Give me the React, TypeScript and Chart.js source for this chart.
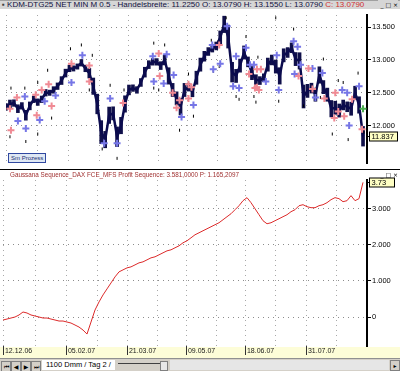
import React, { useEffect, useRef } from 'react';
import { Chart, registerables } from 'chart.js';

Chart.register(...registerables);
Chart.defaults.font.family = 'Liberation Sans, Arial, sans-serif';

// ---------- data (x = bar index, 0..90) ----------
const priceClose = [
  12.286, 12.329, 12.343, 12.257, 12.3, 12.157, 12.3, 12.4, 12.357, 12.4,
  12.5, 12.5, 12.543, 12.6, 12.686, 12.8, 12.871, 12.871, 12.9, 12.957,
  12.871, 12.8, 12.6, 12.329, 11.9, 11.786, 12.157, 12.186, 11.829, 12.0,
  12.329, 12.543, 12.571, 12.543, 12.657, 12.814, 12.929, 12.971, 12.971, 12.914,
  13.0, 12.757, 12.543, 12.414, 12.286, 12.543, 12.586, 12.514, 12.729, 12.929,
  13.057, 13.129, 13.171, 13.214, 13.343, 13.543, 13.357, 12.814, 12.757, 12.914,
  13.114, 12.971, 12.8, 12.7, 12.686, 12.729, 12.929, 13.0, 12.9, 12.757,
  13.071, 13.114, 13.186, 13.014, 12.986, 12.443, 12.529, 12.571, 12.471, 12.771,
  12.586, 12.471, 12.257, 12.271, 12.229, 12.314, 12.286, 12.257, 12.5, 12.314,
  11.837,
];

// full height of the price bar at each index (price units)
const barSpan = [
  0.10, 0.12, 0.10, 0.12, 0.10, 0.15, 0.12, 0.10, 0.10, 0.10,
  0.10, 0.08, 0.10, 0.10, 0.12, 0.12, 0.10, 0.08, 0.08, 0.10,
  0.10, 0.15, 0.25, 0.30, 0.35, 0.25, 0.25, 0.20, 0.30, 0.25,
  0.25, 0.15, 0.10, 0.10, 0.12, 0.15, 0.12, 0.10, 0.10, 0.12,
  0.15, 0.25, 0.20, 0.20, 0.25, 0.20, 0.12, 0.15, 0.20, 0.20,
  0.15, 0.12, 0.10, 0.12, 0.20, 0.25, 0.35, 0.30, 0.20, 0.20,
  0.20, 0.15, 0.20, 0.15, 0.12, 0.12, 0.20, 0.15, 0.20, 0.25,
  0.20, 0.15, 0.15, 0.20, 0.25, 0.35, 0.20, 0.15, 0.20, 0.25,
  0.20, 0.20, 0.25, 0.20, 0.20, 0.15, 0.15, 0.20, 0.20, 0.25,
  0.30,
];

const blueMarks: [number, number][] = [
  [3, 12.071], [5, 11.957], [4.75, 12.443], [8.5, 12.086], [9.75, 12.371], [12.5, 12.457],
  [16.5, 12.657], [19.25, 13.071], [26.25, 12.414], [24.75, 11.729], [28, 11.729],
  [37, 13.057], [40.5, 13.086], [37.25, 12.671], [39.75, 12.643], [42.25, 12.771],
  [44.25, 12.129], [47.25, 12.314], [52, 13.229], [54, 12.943], [52.25, 12.857],
  [55.75, 13.514], [58, 13.057], [57.25, 12.6], [58.75, 12.571], [60.5, 13.186],
  [61.5, 12.929], [62.5, 12.929], [65.5, 12.671], [68.25, 13.071], [68.75, 12.543],
  [72.5, 13.286], [73.5, 13.2], [72.75, 12.786], [74.25, 12.929], [77.25, 12.871],
  [79.75, 12.8], [78, 12.429], [84.75, 12.543], [86, 12.5], [86.5, 12.0], [89, 12.6],
];

const pinkMarks: [number, number][] = [
  [2.75, 12.429], [1, 12.257], [1.25, 11.929], [7.5, 12.471], [7.75, 12.157], [9, 12.543],
  [10.75, 12.629], [11.5, 12.3], [16.5, 12.943], [21, 12.914], [21, 12.671], [29.5, 12.343],
  [38.5, 13.1], [38.75, 12.757], [42, 12.5], [43.75, 12.386], [43, 12.271], [46, 12.629],
  [46, 12.414], [46.75, 12.586], [53.75, 13.229], [61.25, 12.786], [62.75, 12.571],
  [63.25, 12.857], [64.25, 12.857], [63.25, 12.586], [63.75, 12.543], [73.75, 12.757],
  [76.25, 12.871], [77.25, 12.557], [80.25, 12.414], [83, 12.5], [87.25, 12.4],
  [83.75, 12.214], [85.25, 12.143], [89.75, 11.943], [82.75, 12.114],
];

const greenMarks: [number, number][] = [[90, 12.257]];

const stopMarks: [number, number][] = [
  [16.25, 13.171], [19, 13.229], [21.75, 13.071], [1.25, 12.571], [4.75, 12.571], [10.5, 12.843],
  [8, 12.657], [26.25, 12.614], [29.75, 12.543], [1, 11.829], [5, 11.757], [24.25, 11.643],
  [28, 11.5], [8, 11.871], [11.5, 12.114], [21, 12.543], [37.25, 13.257], [40, 13.229],
  [38.5, 12.543], [37.25, 12.571], [43.75, 11.929], [47.25, 12.143], [46, 12.786],
  [51.75, 13.3], [52.25, 12.829], [55.5, 13.643], [53.75, 12.9], [58, 12.443], [58.75, 12.4],
  [60.5, 13.357], [62.5, 12.443], [68, 13.643], [72.5, 13.471], [63.5, 13.043], [63, 12.357],
  [68.75, 12.371], [75, 12.3], [80, 13.014], [79.25, 12.429], [82.25, 11.871], [86.25, 11.786],
  [88.75, 12.8], [90.25, 11.9], [85, 12.657], [83.75, 12.686],
];

const equity = [
  -83, -56, -28, 0, 56, 139, 111, 56, 28, 0,
  -28, -28, -56, -83, -111, -111, -139, -167, -222, -278,
  -361, -472, -139, 194, 417, 611, 778, 944, 1111, 1250,
  1306, 1361, 1389, 1444, 1500, 1528, 1583, 1639, 1667, 1722,
  1778, 1833, 1861, 1917, 1972, 2056, 2111, 2194, 2278, 2333,
  2389, 2444, 2500, 2556, 2611, 2694, 2778, 2861, 2972, 3083,
  3222, 3306, 3167, 3000, 2833, 2667, 2583, 2611, 2667, 2722,
  2778, 2833, 2917, 2972, 3083, 3111, 3056, 3028, 3028, 3083,
  3111, 3167, 3250, 3306, 3278, 3194, 3222, 3361, 3222, 3278,
  3730,
];

const dateTickIdx = [0, 15.75, 31, 45.75, 60.5, 75.75];
const dateLabels = ['12.12.06', '05.02.07', '21.03.07', '09.05.07', '18.06.07', '31.07.07'];
const midGridIdx = [8, 23.5, 38.5, 53.25, 68, 83.25];
const priceTicks = [12.0, 12.5, 13.0, 13.5];
const equityTicks = [0, 1000, 2000, 3000];
const priceRange = [11.429, 13.686];
const equityRange = [-803, 3795];
const X_MAX = 91;

const topTitle = 'KDM-DTG25 NET MIN M 0.5 - Handelsbreite: 11.2250  O: 13.0790  H: 13.1550  L: 13.0790 ';
const topTitleRed = 'C: 13.0790';
const bottomTitle = 'Gaussana Sequence_DAX FCE_MFS  Profit Sequence: 3.581,0000  P: 1.165,2097';
const legendText = 'Sm Prozess';
const tabText = '1100 Dmm / Tag 2 /';

// ---------- helpers ----------
const gridValues = [...dateTickIdx, ...midGridIdx].sort((a, b) => a - b);
const FONT = 'Liberation Sans, Arial, sans-serif';

const pts = (arr: [number, number][]) => arr.map(([x, y]) => ({ x, y }));

const noPad = (s: any) => {
  s.paddingTop = 0;
  s.paddingBottom = 0;
  s.paddingLeft = 0;
  s.paddingRight = 0;
};

const lastBox = (value: number, text: string, w: number) => ({
  id: 'lastBox',
  afterDraw(chart: any) {
    const { ctx, chartArea, scales } = chart;
    const y = Math.round(scales.y.getPixelForValue(value)) + 0.5;
    const x = chartArea.right + 2;
    ctx.save();
    ctx.strokeStyle = '#000';
    ctx.lineWidth = 1;
    ctx.beginPath();
    ctx.moveTo(chartArea.right, y);
    ctx.lineTo(x + 1, y);
    ctx.stroke();
    ctx.fillStyle = '#ffffc4';
    ctx.fillRect(x + 0.5, y - 4.5, w, 9);
    ctx.strokeRect(x + 0.5, y - 4.5, w, 9);
    ctx.fillStyle = '#000';
    ctx.font = `7.5px ${FONT}`;
    ctx.textBaseline = 'middle';
    ctx.fillText(text, x + 2.5, y + 0.5);
    ctx.restore();
  },
});

const bandPlugin = {
  id: 'band',
  beforeDraw(chart: any) {
    const { ctx, chartArea, width, height } = chart;
    ctx.save();
    ctx.fillStyle = '#fdfdd8';
    ctx.fillRect(0, chartArea.bottom + 1, width, height - chartArea.bottom - 1);
    ctx.restore();
  },
};

const yAxis = (range: number[], ticks: number[], fmt: (v: number) => string) => ({
  position: 'right' as const,
  min: range[0],
  max: range[1],
  afterBuildTicks: (s: any) => {
    s.ticks = ticks.map((v) => ({ value: v }));
  },
  afterFit: (s: any) => {
    s.width = 33;
    noPad(s);
  },
  ticks: {
    color: '#000',
    padding: 1,
    font: { family: FONT, size: 7.5 },
    callback: (v: any) => fmt(Number(v)),
  },
  grid: { color: '#8c8c8c', tickColor: '#000', tickLength: 4, drawTicks: true },
  border: { display: true, color: '#000', width: 2, dash: [1, 4] },
});

export default function App() {
  const topRef = useRef<HTMLCanvasElement>(null);
  const botRef = useRef<HTMLCanvasElement>(null);

  useEffect(() => {
    const top = new Chart(topRef.current!, {
      type: 'line',
      data: {
        datasets: [
          {
            data: pts(greenMarks), showLine: false, pointStyle: 'cross', pointRadius: 3.5,
            pointBorderWidth: 2, pointBorderColor: '#4caf50',
          },
          {
            data: pts(pinkMarks), showLine: false, pointStyle: 'cross', pointRadius: 3.5,
            pointBorderWidth: 2, pointBorderColor: '#f08a94',
          },
          {
            data: pts(blueMarks), showLine: false, pointStyle: 'cross', pointRadius: 3.5,
            pointBorderWidth: 2, pointBorderColor: '#7676e6',
          },
          {
            data: pts(stopMarks), showLine: false, pointStyle: 'line', pointRotation: 90,
            pointRadius: 1.5, pointBorderWidth: 1, pointBorderColor: '#000',
          },
          {
            data: priceClose.map((y, i) => ({ x: i, y })),
            borderColor: '#0b0b4e', borderWidth: 2.5, pointRadius: 0, tension: 0,
          },
          {
            type: 'bar',
            data: priceClose.map((c, i) => ({ x: i, y: [c - barSpan[i] / 2, c + barSpan[i] / 2] })),
            backgroundColor: '#10104a', barThickness: 3, borderWidth: 0,
          },
        ],
      } as any,
      options: {
        animation: false,
        responsive: false,
        maintainAspectRatio: false,
        events: [],
        layout: { padding: { left: 3, top: 1, bottom: 1, right: 0 } },
        plugins: { legend: { display: false }, tooltip: { enabled: false } },
        scales: {
          x: {
            type: 'linear', min: 0, max: X_MAX, offset: false,
            afterBuildTicks: (s: any) => { s.ticks = gridValues.map((v) => ({ value: v })); },
            afterFit: (s: any) => { s.height = 0; noPad(s); },
            ticks: { display: false },
            grid: { color: '#a8a8a8', drawTicks: false, offset: false },
            border: { display: false, dash: [1, 4] },
          },
          y: yAxis(priceRange, priceTicks, (v) => v.toFixed(3)),
        },
      } as any,
      plugins: [lastBox(priceClose[priceClose.length - 1], priceClose[priceClose.length - 1].toFixed(3), 28)],
    });

    const bot = new Chart(botRef.current!, {
      type: 'line',
      data: {
        datasets: [
          {
            data: equity.map((y, i) => ({ x: i, y })),
            borderColor: '#dc2a2a', borderWidth: 1, pointRadius: 0, tension: 0,
          },
        ],
      } as any,
      options: {
        animation: false,
        responsive: false,
        maintainAspectRatio: false,
        events: [],
        layout: { padding: { left: 3, top: 10, bottom: 0, right: 0 } },
        plugins: { legend: { display: false }, tooltip: { enabled: false } },
        scales: {
          x: {
            type: 'linear', min: 0, max: X_MAX,
            afterBuildTicks: (s: any) => { s.ticks = gridValues.map((v) => ({ value: v })); },
            afterFit: (s: any) => { s.height = 12; noPad(s); },
            ticks: {
              display: true, autoSkip: false, maxRotation: 0, align: 'start', padding: -8,
              color: '#1a1a1a', font: { family: FONT, size: 7 },
              callback: (v: any) => {
                const k = dateTickIdx.indexOf(Number(v));
                return k >= 0 ? ' ' + dateLabels[k] : '';
              },
            },
            grid: {
              color: '#a8a8a8', drawTicks: true, tickLength: 9,
              tickColor: (c: any) => (dateTickIdx.includes(c.tick?.value) ? '#333' : 'rgba(0,0,0,0)'),
            },
            border: { display: false, dash: [1, 4] },
          },
          y: yAxis(equityRange, equityTicks, (v) => (v === 0 ? '0' : (v / 1000).toFixed(3))),
        },
      } as any,
      plugins: [bandPlugin, lastBox(equity[equity.length - 1], (equity[equity.length - 1] / 1000).toFixed(2), 25)],
    });

    return () => {
      top.destroy();
      bot.destroy();
    };
  }, []);

  const small = { fontFamily: FONT, fontSize: 7, lineHeight: '9px', whiteSpace: 'nowrap' as const };
  const navBtn = (label: string, left: number) => (
    <div
      style={{
        position: 'absolute', left, top: 2, width: 8, height: 9, background: '#d4d0c8',
        border: '1px solid #808080', fontSize: 6, lineHeight: '9px', textAlign: 'center', color: '#000',
        fontFamily: 'DejaVu Sans, sans-serif',
      }}
    >
      {label}
    </div>
  );

  return (
    <div
      style={{
        position: 'absolute', left: 0, top: 0, width: 400, height: 371, overflow: 'hidden',
        background: '#fff', fontFamily: FONT,
      }}
    >
      {/* top title bar */}
      <div style={{ position: 'absolute', left: 0, top: 0, width: 400, height: 9, background: '#d6d6d6', borderTop: '1px solid #a0a0a0', boxSizing: 'border-box' }}>
        <div style={{ ...small, position: 'absolute', left: 2, top: -1, color: '#101040', fontSize: 8 }}>
          <span style={{ color: '#404040' }}>▪ </span>
          {topTitle}
          <span style={{ color: '#d03030' }}>{topTitleRed}</span>
        </div>
        <div style={{ ...small, position: 'absolute', right: 2, top: -1, color: '#000', fontFamily: 'DejaVu Sans, sans-serif', fontSize: 6, background: '#d6d6d6', paddingLeft: 2 }}>_ □ ×</div>
      </div>

      <canvas ref={topRef} width={400} height={160} style={{ position: 'absolute', left: 0, top: 9, width: 400, height: 160 }} />

      {/* legend box */}
      <div
        style={{
          ...small, position: 'absolute', left: 8, top: 153, height: 8, padding: '0 2px', fontSize: 6,
          lineHeight: '8px', background: '#dfe8f4', border: '1px solid #3048a0', color: '#203070',
        }}
      >
        {legendText}
      </div>

      {/* separator */}
      <div style={{ position: 'absolute', left: 0, top: 169, width: 400, height: 1, background: '#000' }} />

      <canvas ref={botRef} width={400} height={188} style={{ position: 'absolute', left: 0, top: 170, width: 400, height: 188 }} />

      {/* bottom panel title */}
      <div style={{ ...small, position: 'absolute', left: 10, top: 170, color: '#a03030', fontSize: 6.3 }}>{bottomTitle}</div>
      <div style={{ ...small, position: 'absolute', right: 2, top: 170, color: '#000', fontFamily: 'DejaVu Sans, sans-serif', fontSize: 6 }}>_ □ ×</div>

      {/* tab bar */}
      <div style={{ position: 'absolute', left: 0, top: 358, width: 400, height: 13, background: '#d4d0c8', borderTop: '1px solid #909090', boxSizing: 'border-box' }}>
        {navBtn('⏮', 1)}
        {navBtn('◀', 11)}
        {navBtn('▶', 21)}
        {navBtn('⏭', 31)}
        <div
          style={{
            ...small, position: 'absolute', left: 42, top: 1, height: 10, padding: '0 4px', background: '#fff',
            color: '#000', fontSize: 7.5, lineHeight: '10px',
          }}
        >
          {tabText}
        </div>
        <div style={{ position: 'absolute', left: 118, top: 4, width: 42, height: 1, background: '#404040' }} />
        <div style={{ position: 'absolute', left: 160, top: 2, width: 6, height: 8, background: '#e8e8e8', border: '1px solid #808080' }} />
        <div style={{ position: 'absolute', left: 170, top: 1, width: 219, height: 10, background: '#e6e6e6' }} />
        <div style={{ position: 'absolute', left: 390, top: 1, width: 8, height: 9, background: '#d4d0c8', border: '1px solid #808080', fontSize: 6, lineHeight: '9px', textAlign: 'center', fontFamily: 'DejaVu Sans, sans-serif' }}>▸</div>
      </div>
    </div>
  );
}
